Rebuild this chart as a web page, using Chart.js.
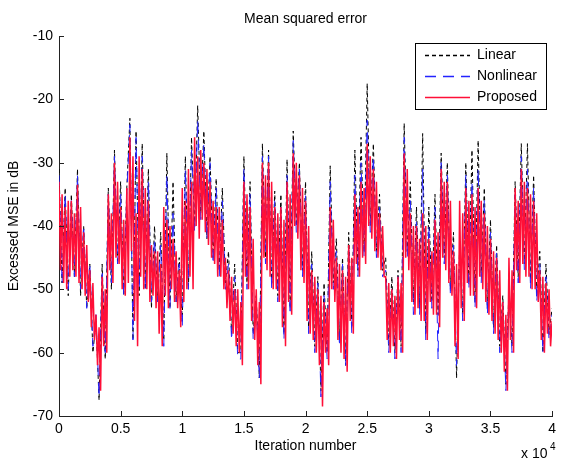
<!DOCTYPE html>
<html>
<head>
<meta charset="utf-8">
<script src="https://cdn.jsdelivr.net/npm/chart.js@4.4.1/dist/chart.umd.min.js"></script>
<style>
  html, body { margin: 0; padding: 0; background: #fff; }
  #wrap { width: 561px; height: 461px; }
</style>
</head>
<body>
<div id="wrap"><canvas id="mseChart" width="561" height="461"></canvas></div>
<script>
const chartTitle = 'Mean squared error'
const xTitle = 'Iteration number'
const yTitle = 'Excessed MSE in dB'
const seriesNames = ['Linear', 'Nonlinear', 'Proposed']

// values: Linear/Nonlinear every 250 iterations,
// Proposed every 125 iterations (it is drawn on top and fills the band)
const coarseStep = 250
const fineStep = 125
const xTicks = [0, 5000, 10000, 15000, 20000, 25000, 30000, 35000, 40000]
const xTickLabels = ['0', '0.5', '1', '1.5', '2', '2.5', '3', '3.5', '4']
const yTicks = [-10, -20, -30, -40, -50, -60, -70]
const yTickLabels = ['-10', '-20', '-30', '-40', '-50', '-60', '-70']

const linear = [
  -31, -49, -34, -51, -35, -48, -31, -51,
  -40, -53, -46, -60, -55, -67.5, -46, -61,
  -34, -50, -28, -46, -33, -51, -34, -23,
  -58, -25, -51, -27, -50, -31, -53, -40,
  -52, -41, -58, -28.5, -53, -33, -52, -45,
  -55, -29, -50, -26, -40, -21, -38, -25,
  -42, -29, -45, -32.5, -47, -34, -49, -44,
  -57, -46, -60, -60, -29, -49, -33, -57,
  -51, -64, -27, -45, -28, -49, -34.5, -51,
  -35, -57, -29.5, -53, -25, -40, -30, -47,
  -33, -56, -44, -59, -48, -66, -49, -60,
  -30.5, -49, -42, -58, -45, -62, -41, -56,
  -28, -47, -26, -44, -17.5, -40, -27, -44,
  -35, -47, -45, -59, -48, -60, -47, -59,
  -23.8, -44, -33, -52, -37, -53, -25.4, -57,
  -37, -52, -35, -54, -28.5, -45, -30, -50,
  -41, -64, -43, -54, -30, -49, -28, -52,
  -26.5, -48, -34, -53, -39, -56, -43, -59,
  -51, -65, -50, -59, -33, -48, -27, -46,
  -27, -49, -32, -51, -44, -60, -46, -57,
  -53
]

const nonlinear = [
  -32, -49, -35, -50, -36, -48, -32, -50,
  -40, -53, -46, -59, -54, -67, -47, -60,
  -35, -49, -29, -46, -35, -51, -35, -24,
  -58, -26, -50, -29, -50, -33, -52, -42,
  -52, -43, -59, -32, -53, -38, -52, -46,
  -56, -31, -50, -28, -41, -23.3, -39, -27,
  -42, -30, -46, -34, -48, -36, -50, -46,
  -58, -48, -61, -61, -31, -50, -35, -58,
  -52, -64, -29, -46, -29, -50, -36, -52,
  -37, -58, -32, -54, -26.5, -41, -31, -48,
  -35, -57, -46, -60, -49, -67, -51, -61,
  -33, -50, -44, -59, -46, -62, -43, -57,
  -32, -48, -30, -45, -23.3, -41, -29, -45,
  -37, -48, -47, -60, -50, -61, -48, -60,
  -26, -45, -36, -54, -39, -54, -31, -58,
  -40, -53, -37, -61, -30, -46, -32, -51,
  -43, -62, -44, -55, -32, -50, -33, -53,
  -31, -49, -36, -54, -41, -57, -44, -60,
  -52, -66, -51, -60, -35, -49, -29, -47,
  -31, -50, -34, -52, -46, -60, -48, -58,
  -54
]

const proposed = [
  -33, -47, -35, -49, -37, -50, -36, -48,
  -36, -47, -38, -48, -33.5, -49, -37, -50,
  -41, -51, -43, -52, -47, -56, -49, -58,
  -54, -62, -56, -66, -48, -59, -50, -60,
  -35, -47, -38, -49, -30, -45, -33, -46,
  -37, -50, -39, -51, -34, -49, -26, -44,
  -29, -55, -38, -59, -29, -48, -31, -50,
  -34, -50, -36, -52, -43, -51, -44, -53,
  -44, -57, -46, -59, -37, -51, -39, -53,
  -40, -50, -42, -52, -44, -53, -47, -56,
  -34, -52, -36, -50, -31, -48, -33, -50,
  -26, -40, -29, -42, -28, -39, -30, -41,
  -31, -43, -33, -45, -36, -46, -37, -48,
  -37, -48, -39, -50, -45, -53, -47, -55,
  -48, -57, -50, -59, -50, -60, -52, -62,
  -33, -48, -35, -50, -37, -55, -42, -58,
  -50, -62, -52, -65, -30, -45, -32, -47,
  -30, -48, -33, -50, -37, -50, -38, -52,
  -37, -56, -39, -59, -33, -52, -35, -54,
  -28.5, -40, -30, -42, -32, -47, -34, -49,
  -36, -55, -40, -57, -47, -58, -48, -60,
  -50, -62, -51, -68.5, -52, -60, -53, -62,
  -37, -50, -39, -52, -45, -58, -46, -60,
  -47, -61, -48, -63, -43, -55, -45, -57,
  -35, -46, -37, -48, -33, -45, -34, -46,
  -27, -40, -29, -42, -31, -44, -33, -45,
  -38, -47, -40, -48, -48, -58, -49, -60,
  -50, -59, -51, -61, -48, -58, -49, -60,
  -28.5, -45, -31, -47, -38, -52, -40, -54,
  -40, -53, -42, -55, -38, -55, -40, -58,
  -42, -52, -44, -54, -39, -54, -41, -56,
  -31, -45, -33, -47, -33, -49, -36, -51,
  -44, -59, -46, -61, -36, -53, -38, -55,
  -34, -49, -36, -51, -35, -51, -37, -53,
  -34, -48, -36, -50, -38, -52, -40, -54,
  -42, -55, -44, -57, -45, -58, -47, -60,
  -52, -63, -54, -66, -45, -58, -47, -60,
  -34, -47, -36, -49, -31, -46, -33, -48,
  -34, -48, -35, -50, -36, -50, -38, -52,
  -47, -58, -48, -60, -49, -57, -50, -59,
  -55
]

const colors = ['#000000', 'rgb(35,35,255)', 'rgb(255,15,55)']
const widths = [1, 1, 1.5]
const dashes = [[4, 3], [11, 7], []]
const font = '"Liberation Sans", Arial, sans-serif'

function makeSeries(i, values, step, order) {
  return {
    label: seriesNames[i],
    data: values.map((v, k) => ({ x: k * step, y: v })),
    borderColor: colors[i],
    borderWidth: widths[i],
    borderDash: dashes[i],
    pointRadius: 0,
    fill: false,
    tension: 0,
    order: order
  }
}

// inward tick marks, title, legend box and the x 10^4 factor
const extras = {
  id: 'extras',
  afterDraw(chart) {
    const ctx = chart.ctx
    const area = chart.chartArea
    const xs = chart.scales.x
    const ys = chart.scales.y
    ctx.save()
    ctx.strokeStyle = '#222'
    ctx.lineWidth = 1
    ctx.setLineDash([])
    ctx.beginPath()
    xTicks.forEach(v => {
      const px = Math.round(xs.getPixelForValue(v)) + 0.5
      ctx.moveTo(px, area.bottom)
      ctx.lineTo(px, area.bottom - 5)
    })
    yTicks.forEach(v => {
      const py = Math.round(ys.getPixelForValue(v)) + 0.5
      ctx.moveTo(area.left, py)
      ctx.lineTo(area.left + 5, py)
    })
    ctx.stroke()

    ctx.fillStyle = '#000'
    ctx.font = '14px ' + font
    ctx.textAlign = 'center'
    ctx.textBaseline = 'middle'
    ctx.fillText(chartTitle, (area.left + area.right) / 2, 19)

    // legend
    const box = { x: 415.5, y: 43.5, w: 131, h: 66 }
    ctx.fillStyle = '#fff'
    ctx.fillRect(box.x, box.y, box.w, box.h)
    ctx.strokeStyle = '#000'
    ctx.strokeRect(box.x, box.y, box.w, box.h)
    const rows = [55.5, 76.5, 97.5]
    seriesNames.forEach((name, i) => {
      ctx.strokeStyle = colors[i]
      ctx.lineWidth = 1.3
      ctx.setLineDash(dashes[i])
      ctx.beginPath()
      ctx.moveTo(425, rows[i])
      ctx.lineTo(470, rows[i])
      ctx.stroke()
      ctx.fillStyle = '#000'
      ctx.textAlign = 'left'
      ctx.fillText(name, 477, rows[i])
    })

    ctx.textAlign = 'left'
    ctx.textBaseline = 'alphabetic'
    ctx.font = '14px ' + font
    ctx.fillText('x 10', 521, 458)
    ctx.font = '10px ' + font
    ctx.fillText('4', 550, 450)
    ctx.restore()
  }
}

const mseChart = new Chart(document.getElementById('mseChart'), {
  type: 'line',
  data: {
    datasets: [
      makeSeries(2, proposed, fineStep, 0),
      makeSeries(1, nonlinear, coarseStep, 1),
      makeSeries(0, linear, coarseStep, 2)
    ]
  },
  options: {
    responsive: false,
    animation: false,
    events: [],
    layout: { padding: { top: 36, right: 5, bottom: 0, left: 0 } },
    plugins: { legend: { display: false }, tooltip: { enabled: false }, title: { display: false } },
    scales: {
      x: {
        type: 'linear',
        min: 0,
        max: 40000,
        afterBuildTicks: s => { s.ticks = xTicks.map(v => ({ value: v })) },
        afterFit: s => { s.height = 45 },
        ticks: {
          callback: v => xTickLabels[xTicks.indexOf(v)],
          color: '#000',
          font: { family: font, size: 14 },
          padding: 5,
          maxRotation: 0,
          autoSkip: false
        },
        grid: { display: false, drawTicks: false },
        border: { display: true, color: '#222', width: 1 },
        title: { display: true, text: xTitle, color: '#000', font: { family: font, size: 14 }, padding: { top: 0, bottom: 6 } }
      },
      y: {
        type: 'linear',
        min: -70,
        max: -10,
        afterBuildTicks: s => { s.ticks = yTicks.map(v => ({ value: v })) },
        afterFit: s => { s.width = 59 },
        ticks: {
          callback: v => yTickLabels[yTicks.indexOf(v)],
          color: '#000',
          font: { family: font, size: 14 },
          padding: 6,
          autoSkip: false
        },
        grid: { display: false, drawTicks: false },
        border: { display: true, color: '#222', width: 1 },
        title: { display: true, text: yTitle, color: '#000', font: { family: font, size: 14 }, padding: { top: 6, bottom: 0 } }
      }
    }
  },
  plugins: [extras]
})
</script>
</body>
</html>
